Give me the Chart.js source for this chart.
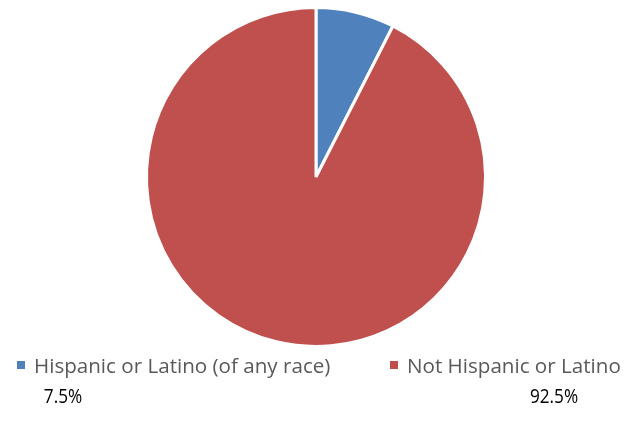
<!DOCTYPE html>
<html lang="en">
<head>
    <meta charset="UTF-8">
    <title>Hispanic or Latino</title>
    <script src="https://cdn.jsdelivr.net/npm/chart.js"></script>
    <style>
        body {
            margin: 0;
            background: #fff;
            font-family: "Open Sans", sans-serif;
        }
        .wrap {
            position: relative;
            width: 625px;
            height: 439px;
        }
        #pieWrap {
            position: absolute;
            left: 0;
            top: 0;
            width: 625px;
            height: 355px;
        }
        .item {
            position: absolute;
            font-size: 20.6px;
            color: #595959;
            white-space: nowrap;
            line-height: 1;
        }
        .item .box {
            display: inline-block;
            width: 8px;
            height: 8px;
            margin-right: 9px;
            vertical-align: 4px;
        }
        .pct {
            position: absolute;
            font-size: 20px;
            color: #000;
            line-height: 1;
            transform: translateX(-50%) scaleX(0.86);
        }
    </style>
</head>
<body>
<div class="wrap">
    <div id="pieWrap"><canvas id="pieChart"></canvas></div>
    <div id="legend"></div>
</div>

<script>
    const categorias = ['Hispanic or Latino (of any race)', 'Not Hispanic or Latino'];
    const valores = [7.5, 92.5];
    const cores = ['#4f81bd', '#c0504d'];

    // legenda + percentuais embaixo
    const legendaX = [17, 390];
    const pctX = [63, 554];
    const legend = document.getElementById('legend');
    categorias.forEach((nome, i) => {
        const item = document.createElement('div');
        item.className = 'item';
        item.style.left = legendaX[i] + 'px';
        item.style.top = '355px';
        item.innerHTML = '<span class="box" style="background:' + cores[i] + '"></span>' + nome;
        legend.appendChild(item);

        const pct = document.createElement('div');
        pct.className = 'pct';
        pct.style.left = pctX[i] + 'px';
        pct.style.top = '386px';
        pct.textContent = valores[i].toFixed(1) + '%';
        legend.appendChild(pct);
    });

    new Chart(document.getElementById('pieChart'), {
        type: 'pie',
        data: {
            labels: categorias,
            datasets: [{
                data: valores,
                backgroundColor: cores,
                borderColor: '#fff',
                borderWidth: 3
            }]
        },
        options: {
            responsive: true,
            maintainAspectRatio: false,
            animation: false,
            layout: { padding: { top: 6, bottom: 7, left: 7, right: 0 } },
            plugins: {
                legend: { display: false },
                tooltip: { enabled: false }
            }
        }
    });
</script>
</body>
</html>
